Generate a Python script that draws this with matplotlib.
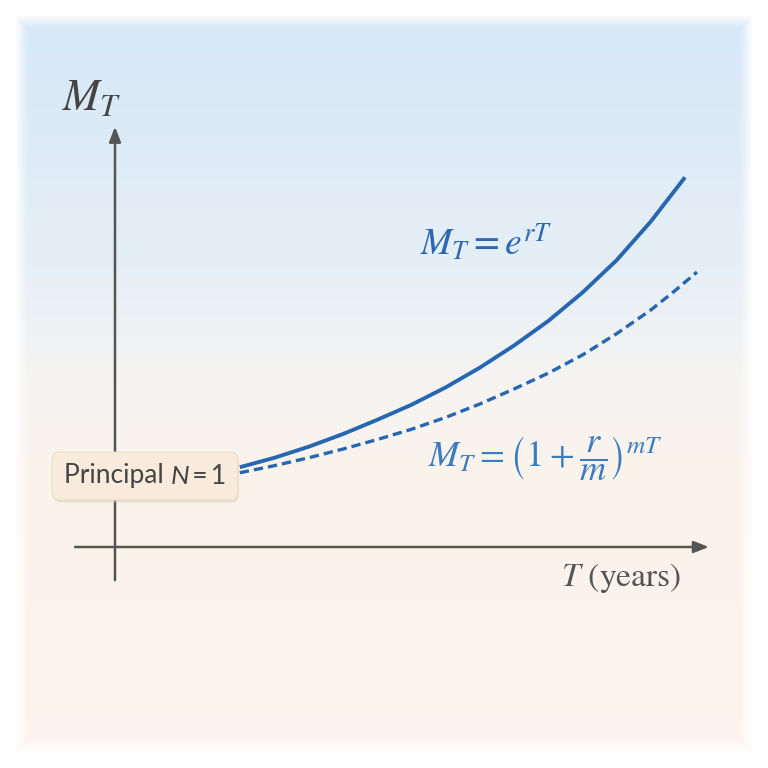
import matplotlib
matplotlib.use('Agg')
import matplotlib.pyplot as plt
from matplotlib.patches import FancyBboxPatch
import numpy as np

plt.rcParams['mathtext.fontset'] = 'stix'

# Valeurs (T en années, M_T en multiples du principal)
T_cont = [2.19, 2.8, 3.4, 4.0, 4.6, 5.2, 5.8, 6.4, 7.0, 7.6, 8.2, 8.8, 9.4, 10.0]
M_cont = [1.01, 1.13, 1.27, 1.43, 1.61, 1.80, 2.02, 2.27, 2.55, 2.86, 3.22, 3.63, 4.12, 4.68]

T_disc = [2.19, 2.8, 3.4, 4.0, 4.6, 5.2, 5.8, 6.4, 7.0, 7.6, 8.2, 8.8, 9.4, 9.8, 10.21]
M_disc = [0.94, 1.03, 1.13, 1.24, 1.36, 1.49, 1.64, 1.81, 2.00, 2.20, 2.43, 2.70, 3.00, 3.23, 3.48]

blue = '#2766b0'
grey = '#555555'

W = H = 768
fig = plt.figure(figsize=(7.68, 7.68), dpi=100)

# ---- fond : dégradé ciel -> pêche avec bord blanc
bg = fig.add_axes([0, 0, 1, 1])
bg.axis('off')
yy = np.linspace(0, 1, H)[:, None]
stops_y = [0.0, 0.1, 0.35, 0.5, 0.65, 1.0]
stops_c = np.array([[214, 232, 246], [217, 233, 246], [230, 239, 246],
                    [246, 244, 242], [251, 243, 234], [252, 245, 239]]) / 255.0
img = np.zeros((H, W, 3))
for k in range(3):
    img[:, :, k] = np.interp(yy, stops_y, stops_c[:, k])
ix = np.arange(W)[None, :] + np.zeros((H, 1))
iy = np.arange(H)[:, None] + np.zeros((1, W))
d = np.minimum.reduce([ix, W - 1 - ix, iy, H - 1 - iy])
m = np.clip((d - 12) / 18.0, 0, 1)
m = m * m * (3 - 2 * m)
img = img * m[:, :, None] + (1 - m[:, :, None])
bg.imshow(img, extent=[0, 1, 0, 1], aspect='auto', zorder=0)
bg.set_xlim(0, 1)
bg.set_ylim(0, 1)

# ---- axes de données : 57 px par année, 79 px par unité de M
ax = fig.add_axes([0, 0, 1, 1])
ax.patch.set_alpha(0)
ax.axis('off')
ax.set_xlim(-115 / 57, (W - 115) / 57)
ax.set_ylim((547 - H) / 79, 547 / 79)

ax.annotate('', xy=(10.42, 0), xytext=(-0.70, 0),
            arrowprops=dict(arrowstyle='-|>,head_length=0.9,head_width=0.35',
                            lw=1.8, color=grey, shrinkA=0, shrinkB=0))
ax.annotate('', xy=(0, 5.32), xytext=(0, -0.42),
            arrowprops=dict(arrowstyle='-|>,head_length=0.9,head_width=0.35',
                            lw=1.8, color=grey, shrinkA=0, shrinkB=0))

ax.plot(T_cont, M_cont, color=blue, lw=2.8, solid_capstyle='butt',
        solid_joinstyle='round', zorder=3)
ax.plot(T_disc, M_disc, color=blue, lw=2.4, dashes=(2.8, 1.5), zorder=3)

ax.text((92 - 115) / 57, (547 - 97) / 79, r'$M_T$', fontsize=32, color='#444444',
        ha='center', va='center')
ax.text((621 - 115) / 57, (547 - 578) / 79, r'$T$ (years)', fontsize=24,
        family='STIXGeneral', color=grey, ha='center', va='center')

ax.text((486 - 115) / 57, (547 - 243) / 79, r'$M_T = e^{rT}$', fontsize=27,
        color='#2a68b2', ha='center', va='center')
ax.text((545 - 115) / 57, (547 - 458) / 79,
        r'$M_T = \left(1 + \dfrac{r}{m}\right)^{mT}$', fontsize=26,
        color='#3b7cc0', ha='center', va='center')

# encadré du principal
bx0, by0, bw, bh = (52 - 115) / 57, (547 - 500) / 79, 186 / 57, 48 / 79
shadow = FancyBboxPatch((bx0 + 0.02, by0 - 0.03), bw, bh,
                        boxstyle='round,pad=0,rounding_size=0.12',
                        facecolor='#d9cbb8', edgecolor='none', alpha=0.5, zorder=4)
box = FancyBboxPatch((bx0, by0), bw, bh, boxstyle='round,pad=0,rounding_size=0.12',
                     facecolor='#f8ebdb', edgecolor='#eddcc6', lw=0.8, zorder=5)
ax.add_patch(shadow)
ax.add_patch(box)

# texte en trois morceaux pour avoir un N italique sans empattement
parts = [('Principal ', 'normal'), ('N', 'italic'), (' = 1', 'normal')]
renderer = fig.canvas.get_renderer()
objs = []
for s, st in parts:
    t = ax.text(0, 0, s, fontsize=19, family='Lato', style=st, color='#444444',
                ha='left', va='center', zorder=6)
    objs.append(t)
objs[2].set_text('\u2009=\u20091')
widths = [t.get_window_extent(renderer).width for t in objs]
total = sum(widths)
x_px = 145 - total / 2
for t, w in zip(objs, widths):
    xd = ax.transData.inverted().transform((x_px, 0))[0]
    t.set_position((xd, by0 + bh / 2))
    x_px += w

fig.savefig('out.png', dpi=100)
